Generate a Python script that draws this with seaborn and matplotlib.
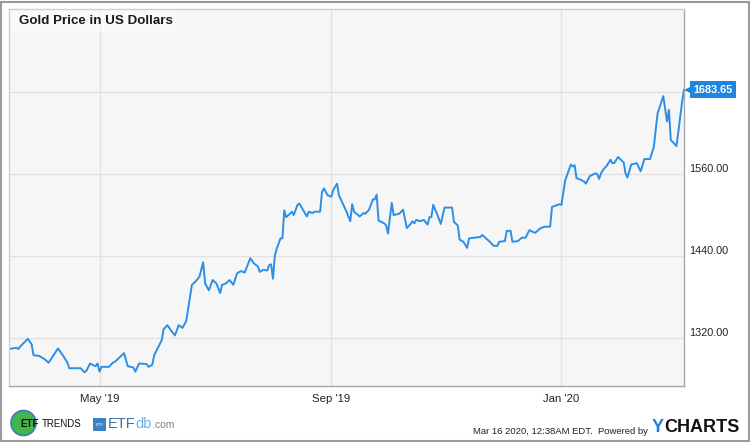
import pandas as pd
import matplotlib.pyplot as plt
import matplotlib.dates as mdates
import matplotlib.patches as patches
import matplotlib.transforms as mtransforms
import seaborn as sns

# Gold price (irregular sampling along the line)
dates = [
    "2019-03-14", "2019-03-18", "2019-03-19", "2019-03-20", "2019-03-24", "2019-03-26", "2019-03-27", "2019-03-30",
    "2019-04-02", "2019-04-04", "2019-04-09", "2019-04-12", "2019-04-14", "2019-04-15", "2019-04-21", "2019-04-23",
    "2019-04-24", "2019-04-26", "2019-04-28", "2019-04-29", "2019-04-30",
    "2019-05-01", "2019-05-02", "2019-05-06", "2019-05-08", "2019-05-09", "2019-05-14", "2019-05-16", "2019-05-19",
    "2019-05-20", "2019-05-22", "2019-05-26", "2019-05-27", "2019-05-29", "2019-05-30",
    "2019-06-03", "2019-06-04", "2019-06-06", "2019-06-08", "2019-06-10", "2019-06-12", "2019-06-14", "2019-06-16",
    "2019-06-18", "2019-06-19", "2019-06-21", "2019-06-23", "2019-06-25", "2019-06-26", "2019-06-28", "2019-06-30",
    "2019-07-02", "2019-07-04", "2019-07-05", "2019-07-07", "2019-07-09", "2019-07-11", "2019-07-13", "2019-07-15",
    "2019-07-17", "2019-07-19", "2019-07-20", "2019-07-22", "2019-07-24", "2019-07-25", "2019-07-27", "2019-07-29",
    "2019-07-30", "2019-07-31",
    "2019-08-01", "2019-08-02", "2019-08-03", "2019-08-05", "2019-08-06", "2019-08-07", "2019-08-08", "2019-08-10",
    "2019-08-11", "2019-08-12", "2019-08-14", "2019-08-15", "2019-08-16", "2019-08-19", "2019-08-20", "2019-08-22",
    "2019-08-23", "2019-08-26", "2019-08-27", "2019-08-28", "2019-08-30",
    "2019-09-01", "2019-09-02", "2019-09-04", "2019-09-05", "2019-09-07", "2019-09-09", "2019-09-11", "2019-09-12",
    "2019-09-13", "2019-09-16", "2019-09-18", "2019-09-19", "2019-09-21", "2019-09-23", "2019-09-24", "2019-09-25",
    "2019-09-26", "2019-09-29", "2019-09-30",
    "2019-10-01", "2019-10-03", "2019-10-04", "2019-10-07", "2019-10-09", "2019-10-11", "2019-10-13", "2019-10-14",
    "2019-10-15", "2019-10-16", "2019-10-18", "2019-10-20", "2019-10-22", "2019-10-23", "2019-10-24", "2019-10-25",
    "2019-10-27", "2019-10-29", "2019-10-31",
    "2019-11-04", "2019-11-05", "2019-11-07", "2019-11-08", "2019-11-10", "2019-11-12", "2019-11-13", "2019-11-16",
    "2019-11-19", "2019-11-20", "2019-11-22", "2019-11-24", "2019-11-26", "2019-11-28", "2019-11-29",
    "2019-12-02", "2019-12-03", "2019-12-05", "2019-12-06", "2019-12-09", "2019-12-11", "2019-12-13", "2019-12-15",
    "2019-12-18", "2019-12-21", "2019-12-23", "2019-12-26", "2019-12-27", "2019-12-31",
    "2020-01-01", "2020-01-03", "2020-01-06", "2020-01-07", "2020-01-08", "2020-01-09", "2020-01-11", "2020-01-13",
    "2020-01-14", "2020-01-16", "2020-01-19", "2020-01-20", "2020-01-21", "2020-01-22", "2020-01-23", "2020-01-25",
    "2020-01-27", "2020-01-28", "2020-01-29", "2020-01-31",
    "2020-02-03", "2020-02-04", "2020-02-05", "2020-02-07", "2020-02-10", "2020-02-12", "2020-02-14", "2020-02-17",
    "2020-02-19", "2020-02-21", "2020-02-24", "2020-02-26", "2020-02-27", "2020-02-28",
    "2020-03-02", "2020-03-03", "2020-03-05", "2020-03-06",
]

prices = [
    1304, 1306, 1304, 1308, 1319, 1311, 1295, 1294,
    1289, 1284, 1305, 1293, 1284, 1276, 1276, 1270, 1272, 1283, 1280, 1279, 1283,
    1271, 1278, 1278, 1284, 1285, 1298, 1279, 1277, 1271, 1283, 1282, 1278, 1281, 1295,
    1317, 1333, 1339, 1331, 1324, 1339, 1335, 1345, 1380, 1398, 1403, 1410, 1431, 1400, 1390, 1405,
    1400, 1386, 1398, 1400, 1405, 1398, 1415, 1418, 1416, 1430, 1437, 1429, 1425, 1417, 1420, 1419, 1427, 1428,
    1407, 1441, 1451, 1466, 1466, 1507, 1497, 1502, 1505, 1500, 1515, 1517, 1512, 1498, 1505, 1503, 1505, 1505,
    1534, 1539, 1529,
    1527, 1537, 1546, 1529, 1517, 1505, 1491, 1516, 1505, 1498, 1503, 1502, 1508, 1523, 1523, 1530, 1492, 1488, 1485,
    1473, 1518, 1500, 1502, 1508, 1481, 1487, 1491, 1488, 1493, 1491, 1493, 1486, 1497, 1497, 1515, 1502, 1487, 1511,
    1511, 1490, 1485, 1464, 1461, 1452, 1466, 1467, 1468, 1471, 1466, 1461, 1455, 1455, 1461,
    1462, 1477, 1477, 1461, 1462, 1467, 1467, 1478, 1474, 1481, 1483, 1483, 1512, 1516,
    1515, 1551, 1574, 1571, 1573, 1554, 1552, 1549, 1546, 1557, 1561, 1560, 1553, 1561, 1566, 1572, 1581, 1576,
    1576, 1585,
    1577, 1561, 1555, 1574, 1576, 1564, 1582, 1582, 1600, 1649, 1674, 1637, 1654, 1610,
    1601, 1622, 1666, 1683.65,
]

x_ticks = ["2019-05-01", "2019-09-01", "2020-01-01"]
y_ticks = [1320, 1440, 1560, 1680]
y_tick_labels = ["1320.00", "1440.00", "1560.00", ""]

LINE_COLOR = "#2b8fe8"
TAG_COLOR = "#1f86e0"


def draw_footer(fig):
    """Logos and the timestamp line under the chart."""
    # ETF Trends badge
    fig.patches.append(patches.Ellipse((23.5 / 750, 1 - 423 / 442), 25 / 750, 25 / 442, transform=fig.transFigure,
                                       facecolor="#43b649", edgecolor="#3a78c8", linewidth=1.2,
                                       figure=fig))
    fig.text(20 / 750, 1 - 424 / 442, "ETF", fontsize=7, fontweight="bold", color="#111111",
             va="center", ha="left")
    fig.text(42 / 750, 1 - 424 / 442, "TRENDS", fontsize=7, color="#111111", va="center", ha="left")

    # ETFdb badge
    fig.patches.append(patches.Rectangle((93 / 750, 1 - 431 / 442), 13 / 750, 13 / 442,
                                         transform=fig.transFigure, facecolor="#3b82c4",
                                         edgecolor="none", figure=fig))
    fig.text(99.5 / 750, 1 - 424.5 / 442, "ETF", fontsize=3, color="white", va="center", ha="center")
    t = fig.text(108 / 750, 1 - 424 / 442, "ETF", fontsize=10.5, color="#3f6f9f", va="center", ha="left")
    fig.canvas.draw()
    r = fig.canvas.get_renderer()
    x = t.get_window_extent(r).x1
    t2 = fig.text(x / 750, 1 - 424 / 442, "db", fontsize=10.5, color="#6fb0e3", va="center", ha="left")
    x = t2.get_window_extent(r).x1
    fig.text(x / 750, 1 - 425 / 442, ".com", fontsize=7.5, color="#808080", va="center", ha="left")

    # timestamp + YCharts
    fig.text(648 / 750, 1 - 431.5 / 442, "Mar 16 2020, 12:38AM EDT.  Powered by", fontsize=6.8,
             color="#222222", va="center", ha="right")
    y = fig.text(652 / 750, 1 - 427 / 442, "Y", fontsize=13, fontweight="bold", color="#1b7fe0",
                 va="center", ha="left")
    x = y.get_window_extent(r).x1
    fig.text(x / 750, 1 - 427 / 442, "CHARTS", fontsize=13, fontweight="bold", color="#111111",
             va="center", ha="left")


def main():
    df = pd.DataFrame({"date": pd.to_datetime(dates), "price": prices})

    sns.set_style("white")
    plt.rcParams["font.family"] = ["Liberation Sans", "DejaVu Sans"]

    fig = plt.figure(figsize=(7.5, 4.42), dpi=100)
    ax = fig.add_axes([9 / 750, 1 - 386 / 442, 675 / 750, 377 / 442])
    ax.set_facecolor("#f6f6f6")

    sns.lineplot(data=df, x="date", y="price", ax=ax, color=LINE_COLOR, linewidth=1.4)

    ax.set_xlim(pd.Timestamp("2019-03-14"), pd.Timestamp("2020-03-06"))
    ax.set_ylim(1250, 1801.5)
    ax.set_xlabel("")
    ax.set_ylabel("")

    # gridlines
    ax.set_xticks(pd.to_datetime(x_ticks))
    ax.xaxis.set_major_formatter(mdates.DateFormatter("%b '%y"))
    ax.set_yticks(y_ticks)
    ax.set_yticklabels([])
    ax.grid(True, color="#e2e2e2", linewidth=1)
    ax.set_axisbelow(True)
    ax.tick_params(axis="both", length=0)
    ax.tick_params(axis="x", labelsize=8.2, colors="#222222", pad=6)

    for side in ["left", "top"]:
        ax.spines[side].set_color("#cfcfcf")
    for side in ["right", "bottom"]:
        ax.spines[side].set_color("#a8a8a8")
    for s in ax.spines.values():
        s.set_linewidth(1)

    # right-side value labels sit just above their gridline
    for v, lab in zip(y_ticks, y_tick_labels):
        ax.annotate(lab, xy=(1, v), xycoords=("axes fraction", "data"), xytext=(3.5, 4),
                    textcoords="offset points", fontsize=7.8, color="#222222", va="center", ha="left")

    # last value tag: pointer + box
    last = prices[-1]
    pointer = mtransforms.offset_copy(ax.get_yaxis_transform(), fig=fig, x=5.5, y=0, units="dots")
    ax.plot([1], [last], marker="<", markersize=8.5, color=TAG_COLOR, transform=pointer,
            clip_on=False, markeredgewidth=0, zorder=5)
    ax.annotate(f"{last:.2f}", xy=(1, last), xycoords=("axes fraction", "data"), xytext=(6.5, 0),
                textcoords="offset points", fontsize=7.8, fontweight="bold", color="white",
                va="center", ha="left", zorder=6,
                bbox=dict(boxstyle="square,pad=0.3", facecolor=TAG_COLOR, edgecolor="none"))

    # title with a faint white panel behind it
    ax.text(10 / 675, 1 - 11.5 / 377, "Gold Price in US Dollars", transform=ax.transAxes, fontsize=9.6,
            fontweight="bold", color="#1a1a1a", va="center", ha="left")
    ax.add_patch(patches.Rectangle((0, 1 - 23 / 377), 168 / 675, 23 / 377, transform=ax.transAxes,
                                   facecolor="white", alpha=0.45, edgecolor="none", zorder=1.5))

    draw_footer(fig)

    # outer frame
    fig.patches.append(patches.Rectangle((0.5 / 750, 1.5 / 442), 748 / 750, 439 / 442,
                                         transform=fig.transFigure, fill=False, edgecolor="#9a9a9a",
                                         linewidth=1.5, figure=fig))

    fig.savefig("out.png", dpi=100)
    plt.close(fig)


if __name__ == "__main__":
    main()
